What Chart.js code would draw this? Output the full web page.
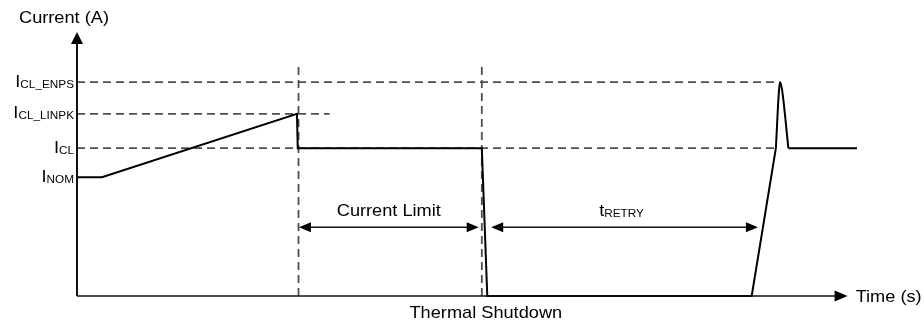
<!DOCTYPE html>
<html>
<head>
<meta charset="utf-8">
<script src="https://cdn.jsdelivr.net/npm/chart.js@4.4.1/dist/chart.umd.min.js"></script>
<style>
  html, body { margin: 0; padding: 0; background: #fff; }
  #wrap { width: 924px; height: 324px; position: relative; }
</style>
</head>
<body>
<div id="wrap"><canvas id="myChart"></canvas></div>
<script>
// time axis 0..100 (arbitrary units), current axis 0..10 (arbitrary units)
const timePts = [0, 3.2, 28.2, 28.3, 51.9, 52.6, 86.5, 89.6];
const currentPts = [4.5, 4.5, 6.9, 5.6, 5.6, 0, 0, 5.6];
// enable overshoot after retry
const spikeTime = [89.6, 90.0, 90.15, 90.4, 91.2];
const spikeCurrent = [5.6, 7.8, 8.1, 7.8, 5.6];
const recoverTime = [91.2, 100];
const recoverCurrent = [5.6, 5.6];

// levels marked on the current axis
const levelMain = ["I", "I", "I", "I"];
const levelSub = ["CL_ENPS", "CL_LINPK", "CL", "NOM"];
const levelValues = [8.1, 6.9, 5.6, 4.5];
const levelDashEnd = [90.1, 32.4, 89.6, null];

// vertical dashed markers
const markerTimes = [28.4, 51.9];
const markerTop = 8.8;

// dimension arrows
const spanMain = ["Current Limit", "t"];
const spanSub = ["", "RETRY"];
const spanStart = [28.45, 53.1];
const spanEnd = [51.5, 87.3];
const spanLevel = 2.6;

const timeAxisEnd = 98.8;
const currentAxisEnd = 10;

const FONT = '"Liberation Sans", Arial, sans-serif';
const STRETCH = 1.07;

function pts(xs, ys) {
  return xs.map((x, i) => ({ x: x, y: ys[i] }));
}

const dashColor = "#4f4f4f";
const datasets = [
  { data: pts(timePts, currentPts), borderColor: "#000", borderWidth: 2, order: 0 },
  { data: pts(spikeTime, spikeCurrent), borderColor: "#000", borderWidth: 2, cubicInterpolationMode: "monotone", order: 0 },
  { data: pts(recoverTime, recoverCurrent), borderColor: "#000", borderWidth: 2, order: 0 },
];
levelValues.forEach((v, i) => {
  if (levelDashEnd[i] == null) return;
  datasets.push({ data: [{ x: 0, y: v }, { x: levelDashEnd[i], y: v }],
    borderColor: dashColor, borderWidth: 1.8, borderDash: [8, 5], order: 2 });
});
markerTimes.forEach((t) => {
  datasets.push({ data: [{ x: t, y: 0 }, { x: t, y: markerTop }],
    borderColor: dashColor, borderWidth: 1.8, borderDash: [8, 5], order: 2 });
});
datasets.forEach((d) => {
  d.showLine = true;
  d.pointRadius = 0;
  d.clip = false;
  d.fill = false;
  d.borderJoinStyle = "miter";
});

// draw text stretched a bit wide, with optional subscript
function drawLabel(ctx, main, sub, x, y, align, big, small) {
  ctx.save();
  ctx.font = big + "px " + FONT;
  const w1 = ctx.measureText(main).width;
  ctx.font = small + "px " + FONT;
  const w2 = sub ? ctx.measureText(sub).width : 0;
  const w = (w1 + w2) * STRETCH;
  let left = x;
  if (align === "right") left = x - w;
  if (align === "center") left = x - w / 2;
  ctx.translate(left, y);
  ctx.scale(STRETCH, 1);
  ctx.fillStyle = "#000";
  ctx.textAlign = "left";
  ctx.textBaseline = "alphabetic";
  ctx.font = big + "px " + FONT;
  ctx.fillText(main, 0, 0);
  if (sub) {
    ctx.font = small + "px " + FONT;
    ctx.fillText(sub, w1, 1);
  }
  ctx.restore();
}

function arrowHead(ctx, x, y, dx, dy, len, half) {
  // dx,dy unit direction of the arrow tip
  ctx.beginPath();
  ctx.moveTo(x, y);
  ctx.lineTo(x - dx * len - dy * half, y - dy * len + dx * half);
  ctx.lineTo(x - dx * len + dy * half, y - dy * len - dx * half);
  ctx.closePath();
  ctx.fill();
}

const decor = {
  id: "decor",
  afterDatasetsDraw(chart) {
    const ctx = chart.ctx;
    const xs = chart.scales.x, ys = chart.scales.y;
    const x0 = xs.getPixelForValue(0), y0 = ys.getPixelForValue(0);
    ctx.save();
    ctx.strokeStyle = "#111";
    ctx.fillStyle = "#000";
    ctx.lineWidth = 2;
    // current axis
    const yTop = ys.getPixelForValue(currentAxisEnd);
    ctx.beginPath();
    ctx.moveTo(x0, y0);
    ctx.lineTo(x0, yTop + 8);
    ctx.stroke();
    arrowHead(ctx, x0, yTop, 0, -1, 12, 6);
    // time axis
    const xEnd = xs.getPixelForValue(timeAxisEnd);
    ctx.lineWidth = 1.6;
    ctx.beginPath();
    ctx.moveTo(x0, y0);
    ctx.lineTo(xEnd - 8, y0);
    ctx.stroke();
    arrowHead(ctx, xEnd, y0, 1, 0, 13, 5.5);

    // dimension arrows
    ctx.lineWidth = 1.5;
    const ySpan = ys.getPixelForValue(spanLevel);
    spanStart.forEach((s, i) => {
      const a = xs.getPixelForValue(s), b = xs.getPixelForValue(spanEnd[i]);
      ctx.beginPath();
      ctx.moveTo(a + 6, ySpan);
      ctx.lineTo(b - 6, ySpan);
      ctx.stroke();
      arrowHead(ctx, a, ySpan, -1, 0, 12, 5);
      arrowHead(ctx, b, ySpan, 1, 0, 12, 5);
      drawLabel(ctx, spanMain[i], spanSub[i], (a + b) / 2 - (spanSub[i] ? 3 : 0), ySpan - 11, "center", 17, 11);
    });
    ctx.restore();

    // level labels
    levelValues.forEach((v, i) => {
      drawLabel(ctx, levelMain[i], levelSub[i], x0 - 3, ys.getPixelForValue(v) + 4.5, "right", 17, 11);
    });
    drawLabel(ctx, "Current (A)", "", 19, 23, "left", 17, 11);
    drawLabel(ctx, "Time (s)", "", xEnd + 8, y0 + 6, "left", 17, 11);
    drawLabel(ctx, "Thermal Shutdown", "", xs.getPixelForValue(markerTimes[1]) + 4, y0 + 22, "center", 17, 11);
  },
};

new Chart(document.getElementById("myChart"), {
  type: "scatter",
  data: { datasets: datasets },
  plugins: [decor],
  options: {
    responsive: true,
    maintainAspectRatio: false,
    animation: false,
    layout: { padding: { left: 77, right: 67, top: 32, bottom: 28 } },
    plugins: { legend: { display: false }, tooltip: { enabled: false } },
    scales: {
      x: { type: "linear", min: 0, max: 100, display: false },
      y: { type: "linear", min: 0, max: 10, display: false },
    },
  },
});
</script>
</body>
</html>
